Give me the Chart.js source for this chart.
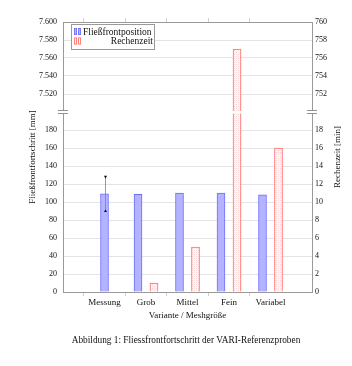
<!DOCTYPE html>
<html><head><meta charset="utf-8">
<script src="https://cdn.jsdelivr.net/npm/chart.js@4/dist/chart.umd.min.js"></script>
<style>html,body{margin:0;padding:0;background:#fff}canvas{display:block}</style>
</head><body>
<canvas id="c" width="352" height="366"></canvas>
<script>
// ---------- data ----------
const categories = ['Messung', 'Grob', 'Mittel', 'Fein', 'Variabel'];
const flowFront = [109, 108.5, 110, 110, 108];          // Fließfrontposition [mm]
const flowFrontErr = [19, null, null, null, null];      // error (±) [mm]
const computeTime = [null, 1, 5, 757, 16];              // Rechenzeit [min]
const leftTicksLower = [0, 20, 40, 60, 80, 100, 120, 140, 160, 180];
const leftTicksUpper = [7520, 7540, 7560, 7580, 7600];
const rightTicksLower = [0, 2, 4, 6, 8, 10, 12, 14, 16, 18];
const rightTicksUpper = [752, 754, 756, 758, 760];
// axis break: lower segment ends at breakLow, upper segment starts at breakHigh
const leftBreakLow = 200, leftBreakHigh = 7500, leftTop = 7600;
const rightBreakLow = 20, rightBreakHigh = 750, rightTop = 760;
const xTitle = 'Variante / Meshgröße';
const yTitle = 'Fließfrontfortschritt [mm]';
const y1Title = 'Rechenzeit [min]';
const caption = 'Abbildung 1: Fliessfrontfortschritt der VARI-Referenzproben';
const legendNames = ['Fließfrontposition', 'Rechenzeit'];

// ---------- helpers ----------
const mapL = v => v == null ? null : (v <= leftBreakLow ? v : v - leftBreakHigh + leftBreakLow);
const mapR = v => v == null ? null : (v <= rightBreakLow ? v : v - rightBreakHigh + rightBreakLow);
const unmapL = v => v <= leftBreakLow ? v : v - leftBreakLow + leftBreakHigh;
const unmapR = v => v <= rightBreakLow ? v : v - rightBreakLow + rightBreakHigh;
const fmtDE = v => v >= 1000 ? Math.floor(v / 1000) + '.' + String(v % 1000).padStart(3, '0') : String(v);
const pad = arr => [null, ...arr, null];

const FONT = "'Liberation Serif', 'DejaVu Serif', serif";
const blueFill = '#b3b3ff', blueLine = '#6c6cff', redLine = '#ff6a6a';
const axisCol = '#9a9a9a', gridCol = '#e4e4e4', tickCol = '#d0d0d0';

function makePattern() {
  const p = document.createElement('canvas'); p.width = 4; p.height = 4;
  const g = p.getContext('2d');
  g.fillStyle = '#fff7f7'; g.fillRect(0, 0, 4, 4);
  g.fillStyle = '#fad2d2'; g.fillRect(0, 0, 1, 1); g.fillRect(2, 2, 1, 1);
  g.fillStyle = '#fce4e4'; g.fillRect(2, 0, 1, 1); g.fillRect(0, 2, 1, 1);
  return document.getElementById('c').getContext('2d').createPattern(p, 'repeat');
}
const redPattern = makePattern();

const labels = ['', ...categories, ''];

const breakPlugin = {
  id: 'breaks',
  afterDatasetsDraw(chart) {
    const ctx = chart.ctx, a = chart.chartArea;
    const yL = chart.scales.y;
    const yb = Math.round(yL.getPixelForValue(leftBreakLow));
    ctx.save();
    ctx.fillStyle = '#fff';
    ctx.fillRect(a.left - 6, yb - 1, a.right - a.left + 12, 2.5);
    ctx.strokeStyle = '#777'; ctx.lineWidth = 0.8;
    [a.left, a.right].forEach(x => {
      ctx.fillStyle = '#fff';
      ctx.fillRect(x - 5, yb - 1.5, 10, 3);
      ctx.beginPath();
      ctx.moveTo(x - 5, yb - 1.5); ctx.lineTo(x + 5, yb - 1.5);
      ctx.moveTo(x - 5, yb + 1.5); ctx.lineTo(x + 5, yb + 1.5);
      ctx.stroke();
    });
    // error bars
    const meta = chart.getDatasetMeta(0);
    flowFront.forEach((v, i) => {
      const e = flowFrontErr[i];
      if (e == null) return;
      const el = meta.data[i + 1];
      const x = Math.round(el.x) + 0.5;
      const yt = yL.getPixelForValue(mapL(v + e));
      const ybm = yL.getPixelForValue(mapL(v - e));
      ctx.strokeStyle = '#808080'; ctx.lineWidth = 0.8;
      ctx.beginPath(); ctx.moveTo(x, yt); ctx.lineTo(x, ybm); ctx.stroke();
      ctx.fillStyle = '#111';
      ctx.beginPath(); ctx.moveTo(x - 1.6, yt - 1); ctx.lineTo(x + 1.6, yt - 1); ctx.lineTo(x, yt + 1.6); ctx.closePath(); ctx.fill();
      ctx.beginPath(); ctx.moveTo(x - 1.6, ybm + 1); ctx.lineTo(x + 1.6, ybm + 1); ctx.lineTo(x, ybm - 1.6); ctx.closePath(); ctx.fill();
    });
    ctx.restore();
  },
  afterDraw(chart) {
    const ctx = chart.ctx, a = chart.chartArea;
    ctx.save();
    ctx.fillStyle = '#111';
    ctx.font = '9px ' + FONT;
    ctx.textAlign = 'center'; ctx.textBaseline = 'middle';
    ctx.fillText(xTitle, (a.left + a.right) / 2, 316);
    ctx.font = '9.3px ' + FONT;
    ctx.fillText(caption, 186, 341);
    ctx.font = '9px ' + FONT;
    const yc = (a.top + a.bottom) / 2;
    ctx.save(); ctx.translate(33, yc); ctx.rotate(-Math.PI / 2); ctx.fillText(yTitle, 0, 0); ctx.restore();
    ctx.save(); ctx.translate(338, yc); ctx.rotate(-Math.PI / 2); ctx.fillText(y1Title, 0, 0); ctx.restore();
    // legend
    const lx = 71.5, ly = 24.5, lw = 83, lh = 25;
    ctx.fillStyle = '#fff'; ctx.fillRect(lx, ly, lw, lh);
    ctx.strokeStyle = '#9a9a9a'; ctx.lineWidth = 1; ctx.strokeRect(lx, ly, lw, lh);
    const sw = (x, y, fill, line) => {
      [0, 4].forEach(dx => {
        ctx.fillStyle = fill; ctx.fillRect(x + dx, y - 3.5, 3, 7);
        ctx.strokeStyle = line; ctx.lineWidth = 0.8; ctx.strokeRect(x + dx + 0.4, y - 3.1, 2.2, 6.2);
      });
    };
    sw(74, 31.5, blueFill, blueLine);
    sw(74, 41, redPattern, redLine);
    ctx.fillStyle = '#111'; ctx.font = '9.5px ' + FONT; ctx.textBaseline = 'middle';
    ctx.textAlign = 'left'; ctx.fillText(legendNames[0], 83, 32);
    ctx.textAlign = 'right'; ctx.fillText(legendNames[1], 153, 41.5);
    ctx.restore();
  }
};

new Chart(document.getElementById('c'), {
  type: 'bar',
  data: {
    labels: labels,
    datasets: [
      { label: legendNames[0], data: pad(flowFront.map(mapL)), yAxisID: 'y',
        backgroundColor: blueFill, borderColor: blueLine, borderWidth: 1, barThickness: 8, skipNull: true },
      { label: 'spacer', data: pad(computeTime.map(v => v == null ? null : 0)), yAxisID: 'y',
        backgroundColor: 'rgba(0,0,0,0)', borderWidth: 0, barThickness: 8, skipNull: true },
      { label: legendNames[1], data: pad(computeTime.map(mapR)), yAxisID: 'y1',
        backgroundColor: redPattern, borderColor: redLine, borderWidth: 1, barThickness: 8, skipNull: true }
    ]
  },
  options: {
    responsive: false, animation: false,
    layout: { padding: 0 },
    plugins: { legend: { display: false }, tooltip: { enabled: false }, title: { display: false } },
    scales: {
      x: {
        position: 'bottom', offset: false,
        grid: { drawOnChartArea: false, tickLength: 4, color: c => (c.index === 0 || c.index === labels.length - 1) ? 'rgba(0,0,0,0)' : tickCol },
        border: { color: axisCol, width: 1 },
        ticks: { font: { family: FONT, size: 9 }, color: '#111', padding: 1, maxRotation: 0, autoSkip: false },
        afterFit: s => { s.height = 74; }
      },
      x2: {
        position: 'top', type: 'category', offset: false,
        grid: { drawOnChartArea: false, tickLength: 4, color: c => (c.index === 0 || c.index === labels.length - 1) ? 'rgba(0,0,0,0)' : tickCol },
        border: { color: axisCol, width: 1 },
        ticks: { display: false },
        afterFit: s => { s.height = 22; }
      },
      y: {
        position: 'left', min: 0, max: mapL(leftTop),
        afterBuildTicks: s => { s.ticks = [...leftTicksLower, ...leftTicksUpper].map(v => ({ value: mapL(v) })); },
        grid: { drawTicks: false, color: c => (c.tick.value === 0 || c.tick.value === leftBreakLow || c.tick.value === mapL(leftTop)) ? 'rgba(0,0,0,0)' : gridCol },
        border: { color: axisCol, width: 1 },
        ticks: { font: { family: FONT, size: 8 }, color: '#111', padding: 6, callback: v => fmtDE(unmapL(v)) },
        afterFit: s => { s.width = 63; }
      },
      y1: {
        position: 'right', min: 0, max: mapR(rightTop),
        afterBuildTicks: s => { s.ticks = [...rightTicksLower, ...rightTicksUpper].map(v => ({ value: mapR(v) })); },
        grid: { drawOnChartArea: false, drawTicks: false },
        border: { color: axisCol, width: 1 },
        ticks: { font: { family: FONT, size: 8 }, color: '#111', padding: 3, callback: v => fmtDE(unmapR(v)) },
        afterFit: s => { s.width = 40; }
      }
    }
  },
  plugins: [breakPlugin]
});
</script>
</body></html>
